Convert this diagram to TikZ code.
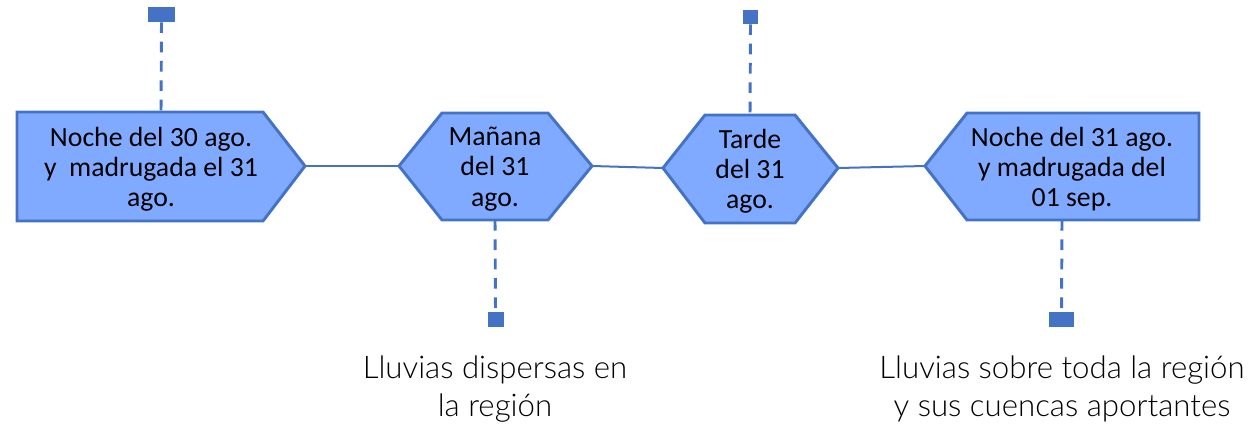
\documentclass[tikz,border=0pt]{standalone}
\usepackage{fontspec}
\setmainfont{Carlito}
\newfontfamily\lightfont{Lato}[UprightFont=* Light]
\definecolor{edgeblue}{RGB}{68,114,196}
\definecolor{fillblue}{RGB}{128,170,255}
\tikzset{
  shapebox/.style={draw=edgeblue, fill=fillblue, line width=2.2pt, line join=miter},
  link/.style={draw=edgeblue, line width=1.5pt},
  dashlink/.style={draw=edgeblue, line width=2.2pt, dash pattern=on 8pt off 6.5pt},
  marker/.style={fill=edgeblue},
  boxtext/.style={align=center, inner sep=0pt, font=\fontsize{20.8}{22.6}\selectfont},
  notetext/.style={align=center, inner sep=0pt, font=\lightfont\fontsize{23.4}{28.5}\selectfont},
}
\begin{document}
\begin{tikzpicture}[x=0.75pt,y=-0.75pt]
\useasboundingbox (0,0) rectangle (1256,425);
% shape 1 (pentagon right)
\coordinate (s1tip) at (305,166);
\coordinate (s1top) at (161,112);
\draw[shapebox] (17,112) -- (263,112) -- (s1tip) -- (263,221) -- (17,221) -- cycle;
% shape 2 hexagon
\coordinate (s2l) at (399,166);
\coordinate (s2r) at (592,166);
\coordinate (s2bot) at (495,220);
\draw[shapebox] (s2l) -- (442,113) -- (548,113) -- (s2r) -- (548,220) -- (442,220) -- cycle;
% shape 3 hexagon
\coordinate (s3l) at (663,168);
\coordinate (s3r) at (838,168);
\coordinate (s3top) at (750,115);
\draw[shapebox] (s3l) -- (705,115) -- (795,115) -- (s3r) -- (795,223) -- (705,223) -- cycle;
% shape 4 pentagon left
\coordinate (s4tip) at (925,166);
\coordinate (s4bot) at (1062,220);
\draw[shapebox] (s4tip) -- (967,113) -- (1199,113) -- (1199,220) -- (967,220) -- cycle;
% texts
\node[boxtext] (t1) at (151,169) {Noche del 30 ago.\\y\ \ madrugada el 31\\ago.};
\node[boxtext] (t2) at (495,169) {Mañana\\del 31\\ago.};
\node[boxtext] (t3) at (750,171) {Tarde\\del 31\\ago.};
\node[boxtext] (t4) at (1072,169) {Noche del 31 ago.\\y madrugada del\\01 sep.};
% connectors
\draw[link] (s1tip) -- (s2l);
\draw[link] (s2r) -- (s3l);
\draw[link] (s3r) -- (s4tip);
% markers
\node[marker, inner sep=0pt, minimum width=27*0.75pt, minimum height=15*0.75pt] (m1) at (161.5,14.5) {};
\node[marker, inner sep=0pt, minimum width=16*0.75pt, minimum height=15*0.75pt] (m2) at (495.5,319.5) {};
\node[marker, inner sep=0pt, minimum width=15*0.75pt, minimum height=14*0.75pt] (m3) at (750.5,17) {};
\node[marker, inner sep=0pt, minimum width=25*0.75pt, minimum height=15*0.75pt] (m4) at (1061.5,319.5) {};
\draw[dashlink] (m1.south) -- (s1top);
\draw[dashlink] (s2bot) -- (m2.north);
\draw[dashlink] (m3.south) -- (s3top);
\draw[dashlink] (s4bot) -- (m4.north);
% notes
\node[notetext] (n1) at (495,389) {Lluvias dispersas en\\la región};
\node[notetext] (n2) at (1062,389) {Lluvias sobre toda la región\\y sus cuencas aportantes};
\end{tikzpicture}
\end{document}
